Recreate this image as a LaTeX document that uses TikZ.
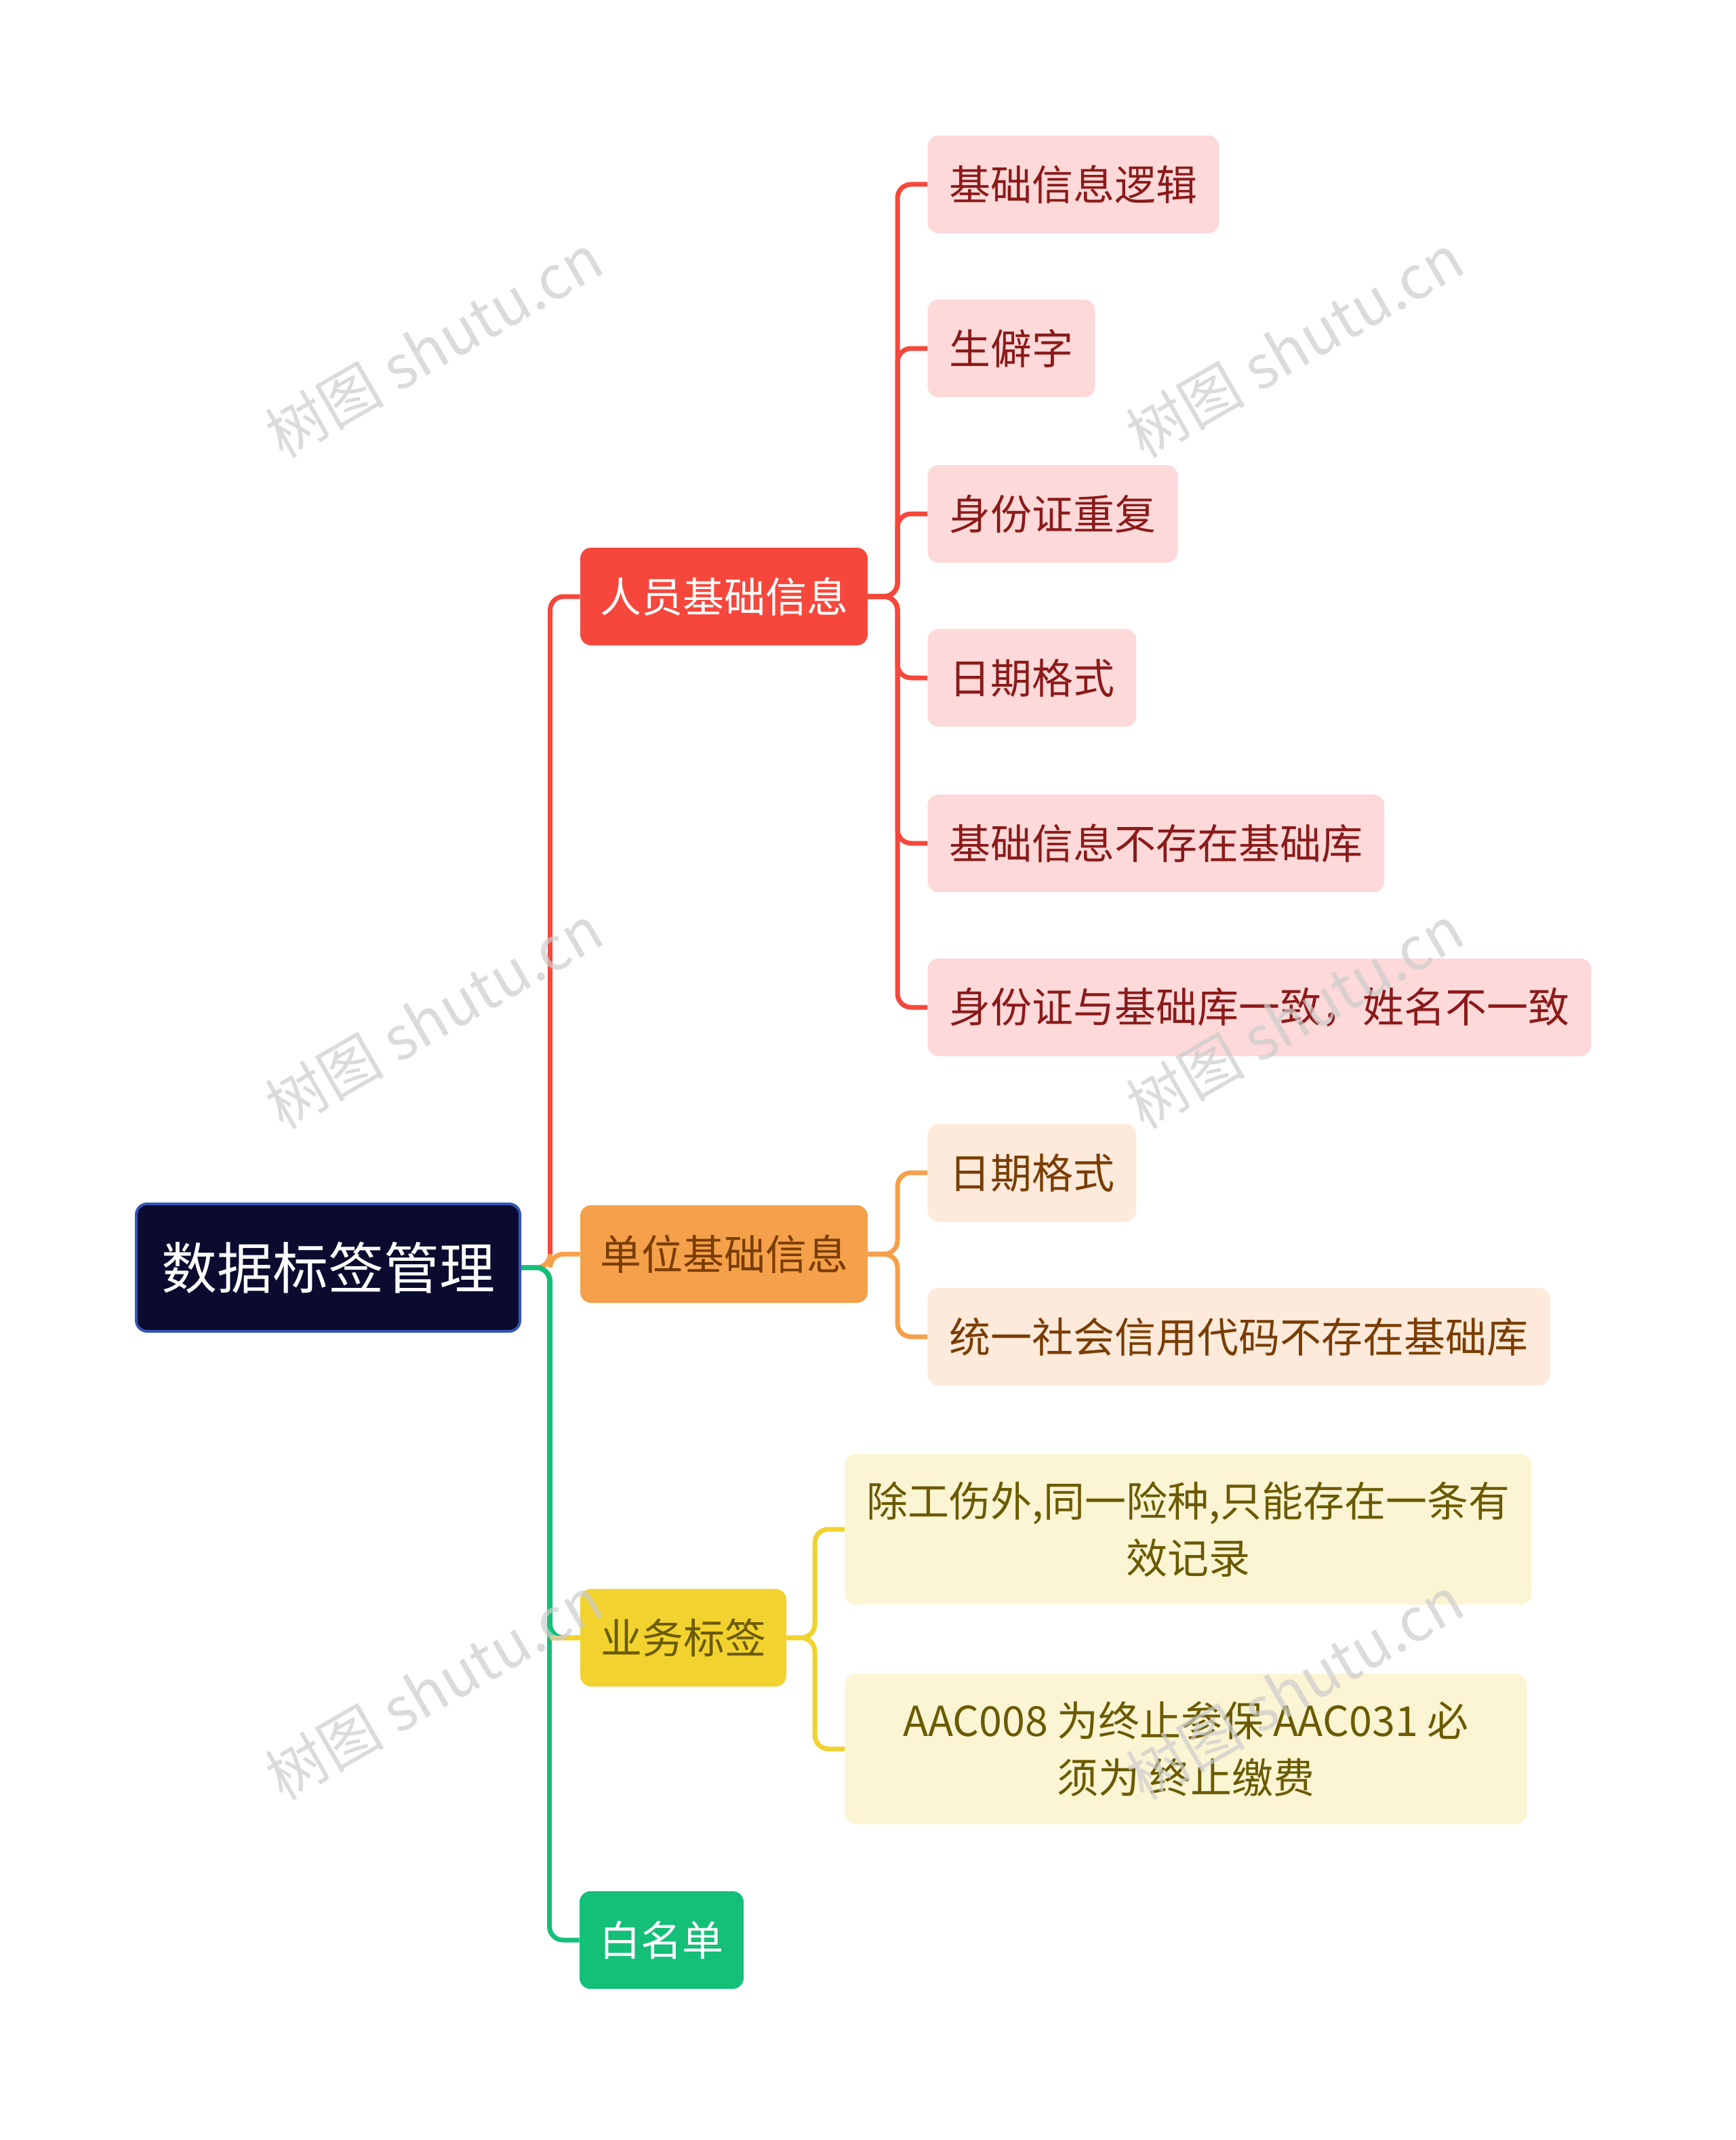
\documentclass[tikz,border=0pt]{standalone}
\usepackage{fontspec}
\setmainfont{Noto Sans CJK SC}
\usepackage{tikz}

\definecolor{rootfill}{HTML}{0B0B30}
\definecolor{rootline}{HTML}{3355B5}
\definecolor{redmain}{HTML}{F5473B}
\definecolor{redpale}{HTML}{FDD9D9}
\definecolor{redtext}{HTML}{8B1A1A}
\definecolor{orgmain}{HTML}{F5A04A}
\definecolor{orgpale}{HTML}{FDEADB}
\definecolor{orgtext}{HTML}{7A3D00}
\definecolor{yelmain}{HTML}{F2D22E}
\definecolor{yelpale}{HTML}{FBF5D3}
\definecolor{yeltext}{HTML}{6B5A00}
\definecolor{grnmain}{HTML}{14BF78}

\tikzset{
  box/.style={rounded corners=8, inner sep=0pt, minimum height=72, font=\fontsize{30.5}{42}\selectfont},
  topic/.style={box, fill=#1main, text=white},
  leaf/.style={box, fill=#1pale, text=#1text, anchor=west, inner xsep=16},
  link/.style={#1main, line width=3.5, rounded corners=10},
  wmark/.style={text=gray!40, opacity=0.7, rotate=30, font=\fontsize{44}{44}\selectfont}
}

\begin{document}
\begin{tikzpicture}[x=1pt, y=-1pt]

\useasboundingbox[fill=white] (0,0) rectangle (1280,1578.5);

\node [box, fill=rootfill, draw=rootline, line width=2, text=white, minimum width=283, minimum height=94, font=\fontsize{41}{48}\selectfont] (root) at (242,935) {数据标签管理};

\node [topic=red, minimum width=212] (person) at (534,440) {人员基础信息};
\node [topic=org, text=orgtext, minimum width=212] (unit) at (534,925) {单位基础信息};
\node [topic=yel, text=yeltext, minimum width=152] (biz) at (504,1208) {业务标签};
\node [topic=grn, minimum width=121] (white) at (488,1431) {白名单};

\node [leaf=red] (p1) at (684,136) {基础信息逻辑};
\node [leaf=red] (p2) at (684,257) {生僻字};
\node [leaf=red] (p3) at (684,379) {身份证重复};
\node [leaf=red] (p4) at (684,500) {日期格式};
\node [leaf=red] (p5) at (684,622) {基础信息不存在基础库};
\node [leaf=red] (p6) at (684,743) {身份证与基础库一致，姓名不一致};

\node [leaf=org] (u1) at (684,865) {日期格式};
\node [leaf=org] (u2) at (684,986) {统一社会信用代码不存在基础库};

\node [leaf=yel, minimum width=503, minimum height=111, align=center] (b1) at (623,1128) {除工伤外,同一险种,只能存在一条有\\效记录};
\node [leaf=yel, minimum width=503, minimum height=111, align=center] (b2) at (623,1290) {AAC008 为终止参保 AAC031 必\\须为 终止缴费};

% trunk
\foreach \t/\c in {person/red, unit/org}
  \draw [link=\c] (root.east) -| ([xshift=-22]\t.west) -- (\t.west);
\foreach \t/\c in {biz/grn, white/grn}
  \draw [link=\c] (root.east) -| ([xshift=-22]\t.west) -- (\t.west);
\draw [link=yel] ([xshift=-22]biz.west) -- (biz.west);

% leaves
\foreach \l in {p1,p2,p3,p4,p5,p6}
  \draw [link=red] (person.east) -| ([xshift=-22]\l.west) -- (\l.west);
\foreach \l in {u1,u2}
  \draw [link=org] (unit.east) -| ([xshift=-22]\l.west) -- (\l.west);
\foreach \l in {b1,b2}
  \draw [link=yel] (biz.east) -| ([xshift=-22]\l.west) -- (\l.west);

% watermark
\foreach \x in {320,955}
  \foreach \y in {255,750,1245}
    \node [wmark] at (\x,\y) {树图 shutu.cn};

\end{tikzpicture}
\end{document}
